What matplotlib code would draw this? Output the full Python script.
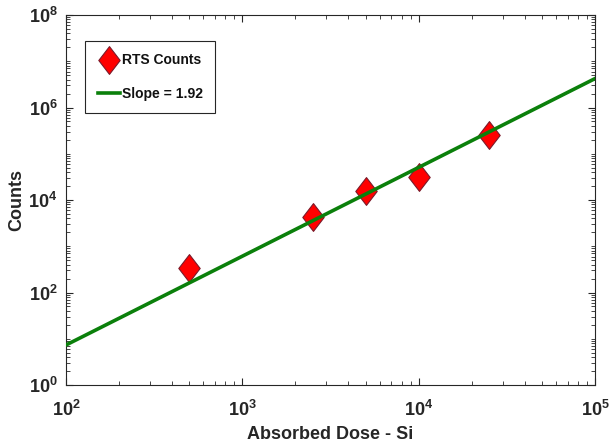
import numpy as np
import matplotlib
matplotlib.use("Agg")
import matplotlib.pyplot as plt
from matplotlib.ticker import FixedLocator, LogLocator, NullFormatter, FuncFormatter
from matplotlib.path import Path

# data
dose = [500, 2500, 5000, 10000, 25000]
counts = [345, 4300, 15900, 32000, 258000]
slope = 1.92
log_intercept = -2.975   # log10 of counts at dose = 1
fit_range = [1e2, 1e5]

plt.rcParams["font.family"] = "Liberation Sans"
plt.rcParams["mathtext.fontset"] = "custom"
plt.rcParams["mathtext.rm"] = "Liberation Sans:bold"
plt.rcParams["mathtext.bf"] = "Liberation Sans:bold"
plt.rcParams["mathtext.it"] = "Liberation Sans:bold"

TXT = "#262626"

diamond = Path([(0, 1), (0.77, 0), (0, -1), (-0.77, 0), (0, 1)],
               [Path.MOVETO, Path.LINETO, Path.LINETO, Path.LINETO, Path.CLOSEPOLY])

fig = plt.figure(figsize=(6.10, 4.43), dpi=100)
ax = fig.add_axes([66 / 610, 1 - 385 / 443, 529 / 610, 370 / 443])

xf = np.logspace(np.log10(fit_range[0]), np.log10(fit_range[1]), 50)
yf = 10 ** log_intercept * xf ** slope

ax.plot(dose, counts, linestyle="none", marker=diamond, markersize=20,
        markerfacecolor="#ff0000", markeredgecolor="#7a1a2a", markeredgewidth=0.8,
        label="RTS Counts", zorder=3)
ax.plot(xf, yf, color="#0b800b", linewidth=2.6, label=f"Slope = {slope}", zorder=4)

ax.set_xscale("log")
ax.set_yscale("log")
ax.set_xlim(1e2, 1e5)
ax.set_ylim(1e0, 1e8)

ax.xaxis.set_major_locator(FixedLocator([1e2, 1e3, 1e4, 1e5]))
ax.yaxis.set_major_locator(FixedLocator([1e0, 1e2, 1e4, 1e6, 1e8]))
ax.xaxis.set_minor_locator(LogLocator(base=10, subs=np.arange(1, 10), numticks=100))
ax.yaxis.set_minor_locator(LogLocator(base=10, subs=np.arange(1, 10), numticks=100))
ax.xaxis.set_minor_formatter(NullFormatter())
ax.yaxis.set_minor_formatter(NullFormatter())
fmt = FuncFormatter(lambda v, p: r"$\mathbf{10^{%d}}$" % int(round(np.log10(v))))
ax.xaxis.set_major_formatter(fmt)
ax.yaxis.set_major_formatter(fmt)

ax.tick_params(which="both", direction="in", top=True, right=True, colors=TXT,
               labelsize=13)
ax.tick_params(which="major", length=5, width=0.8)
ax.tick_params(which="minor", length=3, width=0.6)
ax.tick_params(axis="x", which="major", pad=11)
ax.tick_params(axis="y", which="major", pad=6)
for s in ax.spines.values():
    s.set_color(TXT)
    s.set_linewidth(0.8)

ax.set_xlabel("Absorbed Dose - Si", fontsize=13, fontweight="bold", color=TXT, labelpad=4)
ax.set_ylabel("Counts", fontsize=13, fontweight="bold", color=TXT, labelpad=2)

leg = ax.legend(loc="upper left", bbox_to_anchor=(0.036, 0.93),
                prop={"weight": "bold", "size": 10}, fancybox=False,
                edgecolor=TXT, framealpha=1, handlelength=1.6, handletextpad=0.15,
                labelspacing=1.4, borderpad=0.9, borderaxespad=0)
leg.get_frame().set_linewidth(0.8)
for t in leg.get_texts():
    t.set_color("#111111")

fig.savefig("out.png", dpi=100)
